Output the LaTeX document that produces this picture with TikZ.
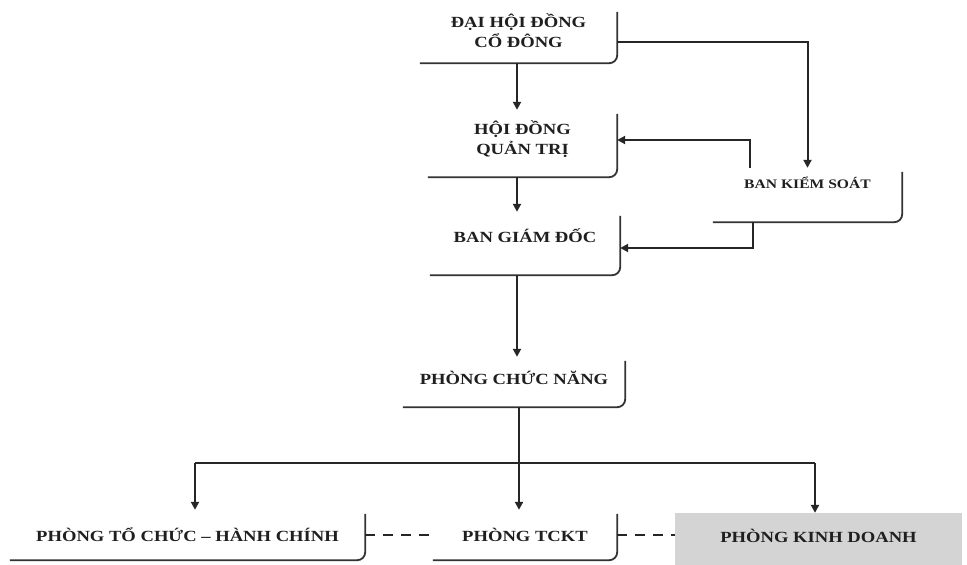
\documentclass[tikz,border=0pt]{standalone}
\usepackage{fontspec}
\newfontfamily\orgfont[FakeStretch=1.2]{Liberation Serif}
\usetikzlibrary{arrows.meta}
\newcommand\up[2]{\raisebox{#1}[\height][\depth]{\begin{tabular}{@{}c@{}}#2\end{tabular}}}
\tikzset{
  orgbox/.style={draw=none, fill=white, inner sep=2pt, align=center,
    font=\orgfont\bfseries\fontsize{15.5}{20}\selectfont, text=black!88},
  edge/.style={draw=black!80, line width=1.8pt, rounded corners=8pt},
  conn/.style={draw=black!85, line width=2pt},
  arr/.style={conn, -{Triangle[width=8pt,length=8pt]}},
  dashconn/.style={draw=black!85, line width=2pt, dash pattern=on 10pt off 8pt},
}
\begin{document}
\begin{tikzpicture}[x=1pt,y=-1pt]
\useasboundingbox (0,0) rectangle (967,565);
\fill[white] (0,0) rectangle (967,565);
% boxes
\node[orgbox, minimum width=197pt, minimum height=55pt] (dh) at (518.5,35.5) {\up{2pt}{ĐẠI HỘI ĐỒNG\\CỔ ĐÔNG}};
\node[orgbox, minimum width=189pt, minimum height=67pt] (hd) at (522.5,143.5) {\up{3pt}{HỘI ĐỒNG\\QUẢN TRỊ}};
\node[orgbox, minimum width=190pt, minimum height=63pt] (bgd) at (525,243.5) {\up{5pt}{BAN GIÁM ĐỐC}};
\node[orgbox, minimum width=189pt, minimum height=54pt, font=\orgfont\bfseries\fontsize{13}{16}\selectfont] (bks) at (807.5,195) {\up{10pt}{BAN KIỂM SOÁT}};
\node[orgbox, minimum width=222pt, minimum height=50pt] (pcn) at (514,382) {\up{2pt}{PHÒNG CHỨC NĂNG}};
\node[orgbox, minimum width=355pt, minimum height=50pt] (p1) at (187.5,535) {PHÒNG TỔ CHỨC – HÀNH CHÍNH};
\node[orgbox, minimum width=184pt, minimum height=50pt] (p2) at (525,535) {PHÒNG TCKT};
\node[orgbox, minimum width=287pt, minimum height=52pt, fill=black!17] (p3) at (818.5,539) {\up{1pt}{PHÒNG KINH DOANH}};
% box edges (bottom and right, rounded corner)
\foreach \b in {dh,hd,bgd,bks,pcn,p1,p2}{
  \draw[edge] ([yshift=-4pt]\b.north east) -- (\b.south east) -- (\b.south west);
}
% connectors
\coordinate (cx) at (517,0);
\coordinate (ks1) at (750,0);
\coordinate (ks2) at (753,0);
\coordinate (r1) at (0,42);
\coordinate (r2) at (0,140);
\coordinate (r3) at (0,248);
\coordinate (r4) at (0,535);
\coordinate (jl) at (195,463);
\coordinate (jm) at (519,463);
\coordinate (jr) at (815,463);
\draw[arr] (dh.south -| cx) -- (hd.north -| cx);
\draw[arr] (hd.south -| cx) -- (bgd.north -| cx);
\draw[arr] (bgd.south -| cx) -- (pcn.north -| cx);
\draw[arr] (dh.east |- r1) -| (bks.north);
\draw[arr] (bks.north -| ks1) |- (hd.east |- r2);
\draw[arr] (bks.south -| ks2) |- (bgd.east |- r3);
\draw[conn] (pcn.south -| jm) -- (jm);
\draw[conn] (jl) -- (jr);
\draw[arr] (jl) -- (p1.north -| jl);
\draw[arr] (jm) -- (p2.north -| jm);
\draw[arr] (jr) -- (p3.north -| jr);
\draw[dashconn] (p1.east |- r4) -- (p2.west |- r4);
\draw[dashconn] (p2.east |- r4) -- (p3.west |- r4);
\end{tikzpicture}
\end{document}
